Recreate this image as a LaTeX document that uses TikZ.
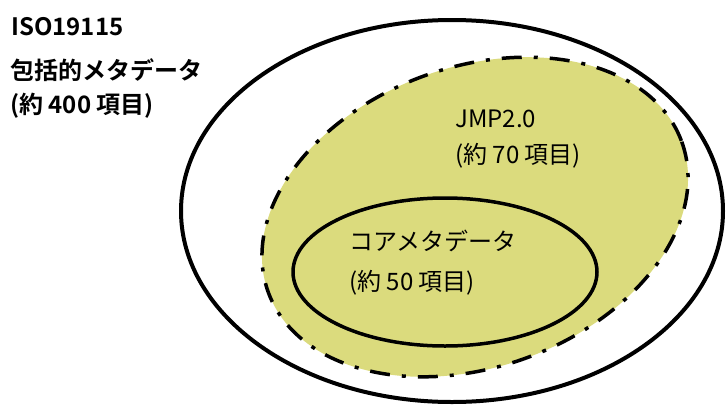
\documentclass[tikz,border=0pt]{standalone}
\usepackage{fontspec}
\newfontfamily\jpfont{Noto Sans CJK JP}
\newfontfamily\jpbold{Noto Sans CJK JP Bold}
\definecolor{jmpyellow}{RGB}{219,219,125}
\tikzset{
  outerset/.style={draw=black, line width=4pt},
  jmpset/.style={fill=jmpyellow, draw=black, line width=3.5pt,
    dash pattern=on 20pt off 12pt on 4pt off 12pt},
  coreset/.style={draw=black, line width=3.5pt},
  boldlabel/.style={anchor=base west, inner sep=0pt, font=\jpbold\fontsize{24}{28}\selectfont},
  plainlabel/.style={anchor=base west, inner sep=0pt, font=\jpfont\fontsize{24}{28}\selectfont}
}
\begin{document}
\begin{tikzpicture}[x=1pt, y=-1pt]
  \useasboundingbox[fill=white] (0,0) rectangle (726,410);
  % outer ellipse: ISO19115
  \draw[outerset] (452,211) ellipse [x radius=271, y radius=191];
  % JMP2.0 ellipse (tilted, dash-dot)
  \draw[jmpset, rotate around={20:(475,217)}] (475,217) ellipse [x radius=220, y radius=150];
  % core metadata ellipse
  \draw[coreset] (445,272) ellipse [x radius=152, y radius=74];
  % labels
  \node[boldlabel] (iso1) at (11,35) {ISO19115};
  \node[boldlabel] (iso2) at (10,79) {包括的メタデータ};
  \node[boldlabel] (iso3) at (10,113) {(約 400 項目)};
  \node[plainlabel] (jmp1) at (455,127) {JMP2.0};
  \node[plainlabel] (jmp2) at (455,163) {(約 70 項目)};
  \node[plainlabel] (core1) at (349,250) {コアメタデータ};
  \node[plainlabel] (core2) at (349,290) {(約 50 項目)};
\end{tikzpicture}
\end{document}
